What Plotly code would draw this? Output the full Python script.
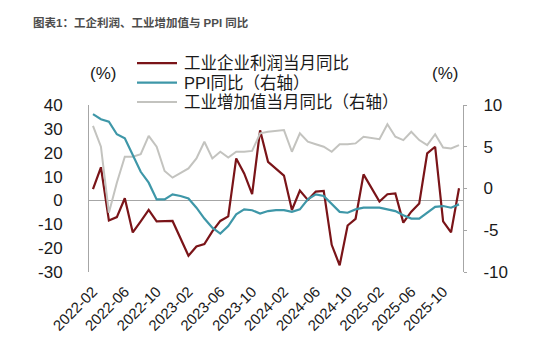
import pandas as pd
import plotly.graph_objects as go

months = list(pd.date_range("2022-02-01", "2025-12-01", freq="MS").strftime("%Y-%m"))
tick_labels = ["2022-02", "2022-06", "2022-10", "2023-02", "2023-06", "2023-10",
               "2024-02", "2024-06", "2024-10", "2025-02", "2025-06", "2025-10"]
left_ticks = [40, 30, 20, 10, 0, -10, -20, -30]
right_ticks = [10, 5, 0, -5, -10]

profit = [4.7, 13.9, -8.4, -7.0, 0.9, -13.4, -8.8, -4.0, -8.8, -8.8, -8.6, None,
          -23.2, -19.3, -18.3, -13.0, -8.6, -6.7, 17.6, 11.3, 2.6, 29.4, 16.2, None,
          10.4, -4.0, 4.1, 0.2, 3.7, 4.0, -18.6, -27.2, -10.5, -7.7, 10.9, None,
          -0.5, 2.6, 2.9, -9.3, -4.7, -1.3, 19.7, 22.5, -8.8, -13.4, 5.1]

ppi = [8.9, 8.3, 8.0, 6.5, 6.0, 4.0, 2.0, 0.7, -1.3, -1.3, -0.7, -0.9,
       -1.2, -2.3, -3.6, -4.7, -5.4, -4.5, -3.1, -2.5, -2.6, -3.0, -2.7, -2.6,
       -2.6, -2.8, -2.5, -1.3, -0.7, -0.9, -1.8, -2.8, -2.9, -2.5, -2.3, -2.3,
       -2.3, -2.5, -2.7, -3.2, -3.6, -3.6, -2.9, -2.2, -2.1, -2.3, -1.9]

iva = [7.5, 5.0, -2.9, 0.7, 3.8, 3.8, 4.1, 6.3, 5.0, 2.1, 1.3, None,
       2.4, 3.6, 5.6, 3.6, 4.4, 3.7, 4.4, 4.4, 4.5, 6.6, 6.8, None,
       7.0, 4.4, 6.6, 5.6, 5.3, 5.0, 4.4, 5.3, 5.3, 5.4, 6.2, None,
       5.9, 7.7, 6.2, 5.8, 6.8, 5.8, 5.2, 6.5, 4.9, 4.8, 5.2]

series_names = ["工业企业利润当月同比", "PPI同比（右轴）", "工业增加值当月同比（右轴）"]
series_colors = ["#7A1418", "#3E97A8", "#C3C3BF"]

FONT = "Liberation Sans, Arial, Noto Sans CJK SC, sans-serif"
AXIS_GREY = "#A6A6A6"
TXT = "#1a1a1a"

PL, PR, PT, PB = 89, 463, 105, 272.5
PW, PH = PR - PL, PB - PT


def px(x):
    return (x - PL) / PW


def py(y):
    return (PB - y) / PH


fig = go.Figure()
fig.add_trace(go.Scatter(x=months, y=iva, name=series_names[2], yaxis="y2",
                         mode="lines", line=dict(color=series_colors[2], width=2),
                         connectgaps=True))
fig.add_trace(go.Scatter(x=months, y=ppi, name=series_names[1], yaxis="y2",
                         mode="lines", line=dict(color=series_colors[1], width=2.2),
                         connectgaps=True))
fig.add_trace(go.Scatter(x=months, y=profit, name=series_names[0], yaxis="y",
                         mode="lines", line=dict(color=series_colors[0], width=2.2),
                         connectgaps=True))

# legend drawn as shapes + text
shapes = []
annotations = []
legend_rows = [63, 82.5, 102]
for name, color, ry in zip(series_names, series_colors, legend_rows):
    shapes.append(dict(type="line", xref="paper", yref="paper",
                       x0=px(137), x1=px(177), y0=py(ry), y1=py(ry),
                       line=dict(color=color, width=2.2)))
    annotations.append(dict(text=name, xref="paper", yref="paper",
                            x=px(182), y=py(ry), xanchor="left", yanchor="middle",
                            showarrow=False, font=dict(size=16.5, color=TXT)))

annotations += [
    dict(text="<b>图表1：工企利润、工业增加值与 PPI 同比</b>", xref="paper", yref="paper",
         x=px(31), y=py(22), xanchor="left", yanchor="middle",
         showarrow=False, font=dict(size=11.5, color="#4d4d4d", family=FONT)),
    dict(text="(%)", xref="paper", yref="paper",
         x=px(103), y=py(73), xanchor="center", yanchor="middle",
         showarrow=False, font=dict(size=17, color=TXT)),
    dict(text="(%)", xref="paper", yref="paper",
         x=px(445), y=py(73), xanchor="center", yanchor="middle",
         showarrow=False, font=dict(size=17, color=TXT)),
]

fig.update_layout(
    width=554, height=362,
    margin=dict(l=PL, r=554 - PR, t=PT, b=362 - PB, autoexpand=False),
    paper_bgcolor="white", plot_bgcolor="white",
    font=dict(family=FONT, size=16, color=TXT),
    showlegend=False,
    xaxis=dict(type="category", range=[-0.5, len(months) - 0.5],
               tickmode="array", tickvals=tick_labels, ticktext=tick_labels,
               tickangle=-45, showgrid=False, showline=False, ticks="",
               tickfont=dict(size=15, color=TXT), ticklabelstandoff=7),
    yaxis=dict(range=[-30, 40], tickmode="array", tickvals=left_ticks,
               ticktext=[str(v) for v in left_ticks],
               showgrid=False, showline=True,
               linecolor=AXIS_GREY, linewidth=1, ticks="",
               zeroline=True, zerolinecolor=AXIS_GREY, zerolinewidth=1,
               tickfont=dict(size=17, color=TXT), ticklabelstandoff=22),
    yaxis2=dict(range=[-10, 10], tickmode="array", tickvals=right_ticks,
                ticktext=[str(v) for v in right_ticks],
                overlaying="y", side="right",
                showgrid=False, showline=True, linecolor=AXIS_GREY, linewidth=1,
                ticks="outside", ticklen=3, tickcolor=AXIS_GREY, zeroline=False,
                tickfont=dict(size=17, color=TXT), ticklabelstandoff=13),
    shapes=shapes,
    annotations=annotations,
)

fig.write_html("out.html", config={"displayModeBar": False},
               post_script="document.body.style.margin='0';")
